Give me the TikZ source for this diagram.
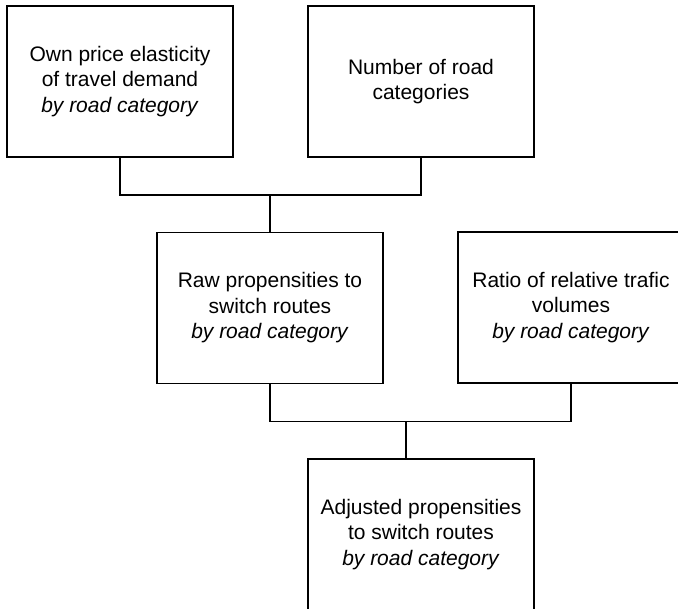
\documentclass[tikz,border=0pt]{standalone}
\usepackage{fontspec}
\setmainfont{Liberation Sans}
\begin{document}
\begin{tikzpicture}[x=1pt,y=-1pt,
  box/.style={draw, line width=1.2pt, minimum width=226pt, minimum height=151pt,
    inner sep=0pt, align=center, font=\fontsize{21}{25.5}\selectfont},
  link/.style={line width=1.2pt}]
\useasboundingbox (0,0) rectangle (678,609);
\clip (0,0) rectangle (678,609);
\node[box] (b1) at (120,81.5) {Own price elasticity\\of travel demand\\\textit{by road category}};
\node[box] (b2) at (421,81.5) {Number of road\\categories};
\node[box] (b3) at (270,308) {Raw propensities to\\switch routes\\\textit{by road category}};
\node[box] (b4) at (571,307.5) {Ratio of relative trafic\\volumes\\\textit{by road category}};
\node[box] (b5) at (421,534.5) {Adjusted propensities\\to switch routes\\\textit{by road category}};
\coordinate (j1) at (270,195);
\coordinate (j2) at (406,421.5);
\draw[link] (b1.south) |- (j1) -| (b2.south);
\draw[link] (j1) -- (b3.north);
\draw[link] (b3.south) |- (j2) -| (b4.south);
\draw[link] (j2) -- (j2 |- b5.north);
\end{tikzpicture}
\end{document}
